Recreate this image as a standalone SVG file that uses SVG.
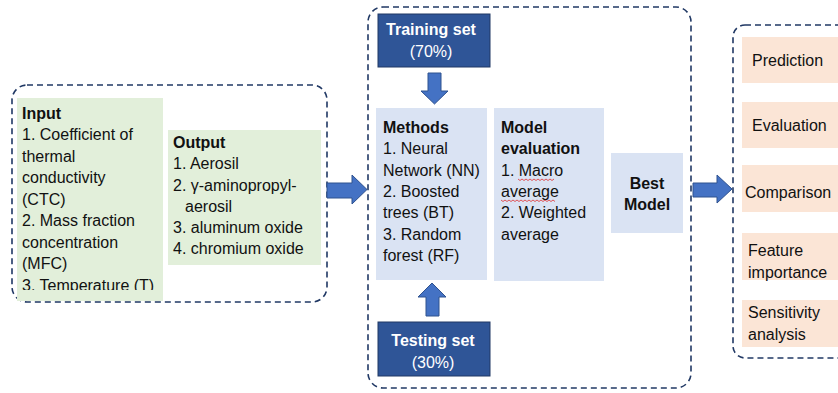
<svg xmlns="http://www.w3.org/2000/svg" width="838" height="393" viewBox="0 0 838 393">
<defs>
<style>
.dash{fill:none;stroke:#203864;stroke-width:1.6;stroke-dasharray:6 4}
.green{fill:#E2EFDA}
.lblue{fill:#DAE3F3}
.peach{fill:#FBE5D6}
.dark{fill:#2F5597;stroke:#203864;stroke-width:1}
.arr{fill:#4472C4;stroke:#2F528F;stroke-width:1}
text{font-family:"Liberation Sans",Arial,sans-serif;font-size:16px;fill:#111}
.b{font-weight:bold}
.w{fill:#fff}
.sq{fill:none;stroke:#E03030;stroke-width:0.8}
</style>
<clipPath id="inclip"><rect x="17" y="98" width="146" height="192"/></clipPath>
</defs>
<rect width="838" height="393" fill="#fff"/>

<g id="containers">
<rect class="dash" x="12" y="85" width="315" height="217" rx="15"/>
<rect class="dash" x="368" y="7" width="323" height="381" rx="15"/>
<rect class="dash" x="733" y="25" width="120" height="333" rx="12"/>
</g>

<g id="input">
<rect class="green" x="17" y="98" width="146" height="203"/>
<g clip-path="url(#inclip)">
<text x="22" y="118.5" class="b">Input</text>
<text x="22" y="140">1. Coefficient of</text>
<text x="22" y="161.5">thermal</text>
<text x="22" y="183">conductivity</text>
<text x="22" y="204.5">(CTC)</text>
<text x="22" y="226">2. Mass fraction</text>
<text x="22" y="247.5">concentration</text>
<text x="22" y="269">(MFC)</text>
<text x="22" y="290.5">3. Temperature (T)</text>
</g>
</g>

<g id="output">
<rect class="green" x="168" y="130" width="153" height="135"/>
<text x="173" y="147.5" class="b">Output</text>
<text x="173" y="168.5">1. Aerosil</text>
<text x="173" y="190.5">2. γ-aminopropyl-</text>
<text x="185" y="212">aerosil</text>
<text x="173" y="232.5">3. aluminum oxide</text>
<text x="173" y="253.5">4. chromium oxide</text>
</g>

<g id="training">
<rect class="dark" x="378" y="14" width="112" height="53"/>
<text x="431" y="34.5" class="b w" text-anchor="middle">Training set</text>
<text x="431" y="56.5" class="w" text-anchor="middle">(70%)</text>
</g>

<g id="methods">
<rect class="lblue" x="376" y="108" width="111" height="172"/>
<text x="383" y="132.5" class="b">Methods</text>
<text x="383" y="153.5">1. Neural</text>
<text x="383" y="175.5">Network (NN)</text>
<text x="383" y="196.5">2. Boosted</text>
<text x="383" y="217.5">trees (BT)</text>
<text x="383" y="239.5">3. Random</text>
<text x="383" y="260.5">forest (RF)</text>
</g>

<g id="evaluation">
<rect class="lblue" x="494" y="108" width="110" height="173"/>
<text x="501" y="132.5" class="b">Model</text>
<text x="501" y="153.5" class="b">evaluation</text>
<text x="501" y="175.5">1. Macro</text>
<text x="501" y="196.5">average</text>
<text x="501" y="217.5">2. Weighted</text>
<text x="501" y="239.5">average</text>
<path class="sq" d="M518 179 l2 1.5 l2 -1.5 l2 1.5 l2 -1.5 l2 1.5 l2 -1.5 l2 1.5 l2 -1.5 l2 1.5 l2 -1.5 l2 1.5 l2 -1.5 l2 1.5 l2 -1.5 l2 1.5 l2 -1.5 l2 1.5 l2 -1.5"/>
<path class="sq" d="M501 200 l2 1.5 l2 -1.5 l2 1.5 l2 -1.5 l2 1.5 l2 -1.5 l2 1.5 l2 -1.5 l2 1.5 l2 -1.5 l2 1.5 l2 -1.5 l2 1.5 l2 -1.5 l2 1.5 l2 -1.5 l2 1.5 l2 -1.5 l2 1.5 l2 -1.5 l2 1.5 l2 -1.5 l2 1.5 l2 -1.5 l2 1.5 l2 -1.5 l2 1.5"/>
</g>

<g id="best">
<rect class="lblue" x="611" y="153" width="72" height="80"/>
<text x="647" y="188.5" class="b" text-anchor="middle">Best</text>
<text x="647" y="209.5" class="b" text-anchor="middle">Model</text>
</g>

<g id="testing">
<rect class="dark" x="378" y="322" width="112" height="54"/>
<text x="433" y="345.5" class="b w" text-anchor="middle">Testing set</text>
<text x="433" y="367.5" class="w" text-anchor="middle">(30%)</text>
</g>

<g id="prediction">
<rect class="peach" x="742" y="37" width="110" height="46"/>
<text x="752" y="65.5">Prediction</text>
</g>
<g id="evaluation2">
<rect class="peach" x="742" y="102" width="110" height="46"/>
<text x="752" y="130.5">Evaluation</text>
</g>
<g id="comparison">
<rect class="peach" x="742" y="165" width="110" height="47"/>
<text x="745" y="197.5">Comparison</text>
</g>
<g id="feature">
<rect class="peach" x="742" y="233" width="110" height="47"/>
<text x="748" y="255.5">Feature</text>
<text x="748" y="277.5">importance</text>
</g>
<g id="sensitivity">
<rect class="peach" x="742" y="300" width="110" height="47"/>
<text x="748" y="317.5">Sensitivity</text>
<text x="748" y="339.5">analysis</text>
</g>

<g id="connectors">
<path class="arr" d="M327 183 H352 V175 L367 189.5 L352 204 V198 H327 Z"/>
<path class="arr" d="M693 183 H717 V175 L732 189 L717 203 V197 H693 Z"/>
<path class="arr" d="M428 73 H441 V91 H448 L434.5 104 L421 91 H428 Z"/>
<path class="arr" d="M426 316 H439 V297 H446 L432 283 L418 297 H426 Z"/>
</g>
</svg>
